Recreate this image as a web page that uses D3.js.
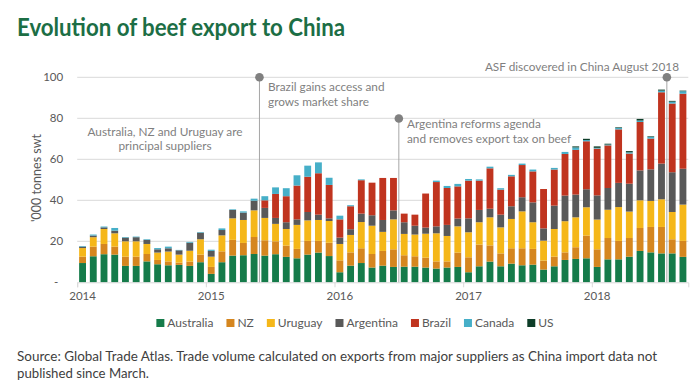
<!DOCTYPE html>
<html><head><meta charset="utf-8">
<script src="https://cdn.jsdelivr.net/npm/d3@7"></script>
<style>
body{margin:0;background:#fff}
svg{display:block}
text{font-family:Lato,"Open Sans",sans-serif}
</style>
</head><body>
<svg id="c" width="700" height="390"></svg>
<script>
// ---------- DATA ----------
const months = [
 "2014-01","2014-02","2014-03","2014-04","2014-05","2014-06","2014-07","2014-08","2014-09","2014-10","2014-11","2014-12",
 "2015-01","2015-02","2015-03","2015-04","2015-05","2015-06","2015-07","2015-08","2015-09","2015-10","2015-11","2015-12",
 "2016-01","2016-02","2016-03","2016-04","2016-05","2016-06","2016-07","2016-08","2016-09","2016-10","2016-11","2016-12",
 "2017-01","2017-02","2017-03","2017-04","2017-05","2017-06","2017-07","2017-08","2017-09","2017-10","2017-11","2017-12",
 "2018-01","2018-02","2018-03","2018-04","2018-05","2018-06","2018-07","2018-08","2018-09"];
const australia = [9.4,12.7,13.7,13.5,8,8,10.2,8.8,8.3,8.5,8,9.8,
 4.1,9.8,13,13.2,13.8,13,13.7,12.4,11.7,13.5,14.5,12.8,
 4.9,8.1,9.4,7.2,8.1,7.5,7.6,7.6,7.2,6.7,7.2,7.5,
 4.9,7.8,10.1,7.8,9.1,8.3,8.6,6.2,7.8,10.9,11.4,11.7,
 7.5,11.2,11.2,12.5,15.3,14.6,14.1,14.1,12.4];
const nz = [3.1,4.7,5.0,3.9,4.5,4.5,3.6,2.1,1.9,1.1,2.1,3.7,
 3.4,5.3,7.7,6.0,8.3,7.5,6.3,5.5,4.6,6.7,5.7,6.5,
 5.8,6.5,7.2,6.6,7.2,8.6,5.6,5.1,4.8,3.5,3.0,7.0,
 7.3,10.6,7.9,6.3,7.5,8.3,7.7,4.4,4.7,3.7,5.7,11.1,
 8.6,10.4,9.0,9.1,11.2,12.4,12.9,6.9,7.8];
const uruguay = [4.2,4.6,7.3,6.5,7.5,7.5,4.9,3.6,4.8,3.9,5.3,7.5,
 5.0,7.8,10.5,11.2,13.0,10.9,8.5,8.1,11.7,10.0,10.2,10.6,
 8.0,8.5,12.8,13.8,9.3,14.6,10.4,10.6,11.7,13.7,12.4,12.8,
 12.2,10.9,13.7,12.7,14.3,18.0,13.0,9.7,13.5,15.2,14.6,13.8,
 14.5,13.8,16.5,12.9,13.5,12.7,13.5,13.3,17.7];
const argentina = [0.7,0.8,0.8,1.3,1.8,2.0,2.0,1.6,1.6,2.1,3.9,3.2,
 2.8,2.6,4.1,3.6,4.7,4.9,2.9,3.3,2.7,4.1,2.6,1.3,
 3.1,2.8,4.1,5.1,5.8,4.4,5.7,4.3,3.0,3.4,5.4,3.8,
 6.8,6.0,4.2,6.2,6.2,6.9,9.7,6.0,11.4,12.5,11.1,8.8,
 11.8,10.6,11.8,13.6,14.6,15.4,17.4,19.4,17.5];
const brazil = [0,0,0,0,0,0,0,0,0,0,0,0,
 0,0,0,0,0,3.7,11.7,12.7,16.5,17.2,20.2,16.3,
 8.9,11.2,16.3,15.9,20.5,15.8,4.2,5.4,16.6,21.6,18.0,15.7,
 18.4,14.3,19.7,12.2,14.6,15.7,15.1,19.2,17.6,20.3,21.8,23.4,
 22.8,20.8,26.1,14.7,23.6,15.0,34.8,33.5,36.6];
const canada = [0.3,0.5,0.4,1.3,0.3,0.3,0.3,0.6,0.8,0.2,0.4,0.3,
 0.6,0.8,0.3,0.6,1.0,2.0,3.2,3.9,5.0,5.4,5.3,3.5,
 1.8,0.5,0.4,0,0,0,0,0,0,0.7,1.0,1.2,
 0.8,0.6,0.8,0.7,0.7,0.7,0.9,0,0.8,1.0,1.2,0.6,
 0.4,0.4,0.7,0.6,0.7,0.8,0.8,0.9,1.2];
const us = [0,0,0,0,0,0,0,0,0,0,0,0,
 0,0,0,0,0,0,0,0,0,0,0,0,
 0,0,0,0,0,0,0,0,0,0,0,0,
 0,0,0,0,0,0,0,0,0,0,0.5,0.6,
 0.7,0.4,0.3,0.6,0.8,0.3,0.5,0.4,0.3];
const seriesNames = ["Australia","NZ","Uruguay","Argentina","Brazil","Canada","US"];
const yTickValues = [0,20,40,60,80,100];
const yearLabels = ["2014","2015","2016","2017","2018"];
const annotationMonths = ["2015-06","2016-07","2018-08"];
const annotationTexts = [
  ["Brazil gains access and","grows market share"],
  ["Argentina reforms agenda","and removes export tax on beef"],
  ["ASF discovered in China August 2018"]];
const noteText = ["Australia, NZ and Uruguay are","principal suppliers"];
const titleText = "Evolution of beef export to China";
const yAxisTitle = "'000 tonnes swt";
const sourceLines = ["Source: Global Trade Atlas. Trade volume calculated on exports from major suppliers as China import data not",
  "published since March."];

// ---------- STYLE ----------
const palette = ["#157b4a","#d5861f","#f5b719","#595959","#c0341f","#46afc8","#0d3d28"];

// ---------- BUILD ----------
const svg = d3.select("#c");
const table = months.map((m,i)=>({month:m, Australia:australia[i], NZ:nz[i], Uruguay:uruguay[i],
  Argentina:argentina[i], Brazil:brazil[i], Canada:canada[i], US:us[i]}));
const stacked = d3.stack().keys(seriesNames)(table);

const x0 = 77.2, x1 = 688.3;
const x = d3.scaleBand().domain(months).range([x0,x1]).paddingInner(0.36).paddingOuter(0.18);
const y = d3.scaleLinear().domain([0,100]).range([282.3,77.3]);
const color = d3.scaleOrdinal().domain(seriesNames).range(palette);
const gapHalf = (x.step()-x.bandwidth())/2;
const bandStart = m => x(m) - gapHalf;

// title
svg.append("text").attr("x",17).attr("y",36).attr("fill","#1c6e45")
  .attr("font-size",25).attr("font-weight",700)
  .attr("textLength",328).attr("lengthAdjust","spacingAndGlyphs").text(titleText);

// gridlines
svg.append("g").selectAll("line").data(yTickValues.filter(d=>d>0)).join("line")
  .attr("x1",x0).attr("x2",x1).attr("y1",d=>y(d)).attr("y2",d=>y(d))
  .attr("stroke","#d9d9d9").attr("stroke-width",1);

// y axis
const yAxis = svg.append("g").attr("transform",`translate(${x0},0)`)
  .call(d3.axisLeft(y).tickValues(yTickValues).tickSize(0).tickPadding(14)
    .tickFormat(d=>d===0?"-":d));
yAxis.select(".domain").remove();
yAxis.selectAll("text").attr("font-family","Lato").attr("font-size",11.5).attr("fill","#595959");
yAxis.selectAll(".tick").filter(d=>d===0).select("text").attr("dx",-5);

// bars
svg.append("g").selectAll("g").data(stacked).join("g").attr("fill",d=>color(d.key))
  .selectAll("rect").data(d=>d).join("rect")
  .attr("x",d=>x(d.data.month)).attr("width",x.bandwidth())
  .attr("y",d=>y(d[1])).attr("height",d=>Math.max(0,y(d[0])-y(d[1])));

// x axis line + year ticks
const yearStartMonths = yearLabels.map(yr=>yr+"-01");
const xl = d3.scaleLinear().domain([0,months.length]).range([x0,x1]);
const xAxis = svg.append("g").attr("transform",`translate(0,${y(0)})`)
  .call(d3.axisBottom(xl).tickValues(yearStartMonths.map(m=>months.indexOf(m))).tickSize(5).tickFormat(""));
xAxis.select(".domain").attr("stroke","#d9d9d9");
xAxis.selectAll(".tick line").attr("stroke","#d9d9d9");
const xLab = svg.append("g").attr("transform",`translate(0,${y(0)})`)
  .call(d3.axisBottom(x).tickValues(yearStartMonths).tickSize(0).tickPadding(10)
    .tickFormat(m=>m.slice(0,4)));
xLab.select(".domain").remove();
xLab.selectAll("text").attr("font-family","Lato").attr("font-size",11.5).attr("fill","#595959");

// y axis title
svg.append("text").attr("transform","translate(41,178) rotate(-90)").attr("text-anchor","middle")
  .attr("font-size",12.5).attr("fill","#595959").text(yAxisTitle);

// annotations
const annTop = [77.3, 118.5, 77.3];
const annTextPos = [[268,91,"start"],[407,128,"start"],[679,71,"end"]];
annotationMonths.forEach((m,i)=>{
  const ax = bandStart(m);
  svg.append("line").attr("x1",ax).attr("x2",ax).attr("y1",annTop[i]).attr("y2",y(0))
    .attr("stroke","#a6a6a6").attr("stroke-width",1);
  svg.append("circle").attr("cx",ax).attr("cy",annTop[i]).attr("r",4.3).attr("fill","#808080");
  const [tx,ty,anc] = annTextPos[i];
  annotationTexts[i].forEach((t,j)=>{
    svg.append("text").attr("x",tx).attr("y",ty+j*14.5).attr("text-anchor",anc)
      .attr("font-size",11.8).attr("fill","#7f7f7f").text(t);
  });
});
noteText.forEach((t,j)=>{
  svg.append("text").attr("x",165).attr("y",136+j*14).attr("text-anchor","middle")
    .attr("font-size",11.8).attr("fill","#7f7f7f").text(t);
});

// legend
const lg = svg.append("g");
let lx = 0;
seriesNames.forEach((s,i)=>{
  const g = lg.append("g").attr("transform",`translate(${lx},0)`);
  g.append("rect").attr("x",0).attr("y",-4).attr("width",8).attr("height",8).attr("fill",color(s));
  const t = g.append("text").attr("x",11).attr("y",4).attr("font-size",12).attr("fill","#595959").text(s);
  lx += 11 + t.node().getComputedTextLength() + 13;
});
lx -= 13;
lg.attr("transform",`translate(${355 - lx/2},323)`);

// source
sourceLines.forEach((t,j)=>{
  const el = svg.append("text").attr("x",17).attr("y",361+j*17).attr("font-size",13.2).attr("fill","#404040").text(t);
  if(j===0) el.attr("textLength",640).attr("lengthAdjust","spacingAndGlyphs");
});
</script>
</body></html>
